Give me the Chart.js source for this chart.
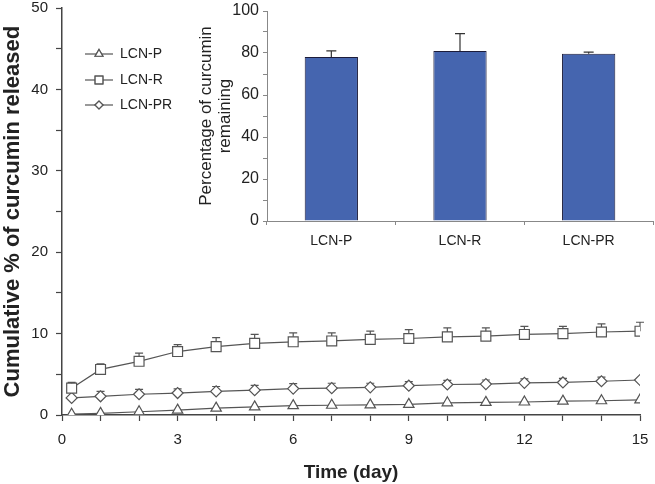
<!DOCTYPE html>
<html>
<head>
<meta charset="utf-8">
<script src="https://cdn.jsdelivr.net/npm/chart.js@4"></script>
<style>
  body { margin: 0; background: #fff; }
  #wrap { position: relative; width: 655px; height: 484px; }
  #main { position: absolute; left: 0; top: 0; }
  #inset { position: absolute; left: 195px; top: 0; }
</style>
</head>
<body>
<div id="wrap">
  <canvas id="main" width="655" height="484"></canvas>
  <canvas id="inset" width="460" height="250"></canvas>
</div>
<script>
// release data (day, cumulative %)
const days = [0.25, 1, 2, 3, 4, 5, 6, 7, 8, 9, 10, 11, 12, 13, 14, 15]
const lcnP = [0.1, 0.2, 0.4, 0.6, 0.85, 1.0, 1.15, 1.2, 1.25, 1.3, 1.5, 1.55, 1.6, 1.7, 1.75, 1.85]
const lcnR = [3.3, 5.6, 6.6, 7.8, 8.4, 8.8, 9.0, 9.1, 9.3, 9.4, 9.6, 9.7, 9.9, 10.0, 10.2, 10.3]
const lcnPR = [2.1, 2.3, 2.55, 2.7, 2.9, 3.05, 3.25, 3.3, 3.4, 3.6, 3.75, 3.8, 3.95, 4.0, 4.15, 4.3]
const errR = [0.7, 0.7, 1.0, 0.85, 1.1, 1.1, 1.1, 1.0, 1.0, 1.1, 1.1, 1.0, 1.0, 0.9, 1.0, 1.1]
const errPR = [0, 0.6, 0.6, 0.5, 0.6, 0.6, 0.6, 0.6, 0.5, 0.5, 0.5, 0.5, 0.5, 0.5, 0.5, 0]

// inset data
const groups = ['LCN-P', 'LCN-R', 'LCN-PR']
const remaining = [78.1, 81.0, 79.6]
const remainingErr = [2.9, 8.2, 0.8]

const FONT = "'Liberation Sans', Arial, sans-serif"
Chart.defaults.font.family = FONT
Chart.defaults.color = '#222'

const lineGrey = '#555'

// upward error bars with a cap
const errorBars = {
  id: 'errorBars',
  beforeDatasetsDraw(chart, args, opts) {
    const c = chart.ctx
    const yScale = chart.scales.y
    chart.data.datasets.forEach((ds, i) => {
      if (!ds.errors) return
      const meta = chart.getDatasetMeta(i)
      c.save()
      c.strokeStyle = opts.color || lineGrey
      c.lineWidth = 1.2
      meta.data.forEach((el, j) => {
        const e = ds.errors[j]
        if (!e) return
        const raw = ds.data[j]
        const v = typeof raw === 'object' ? raw.y : raw
        const x = el.x
        const y0 = yScale.getPixelForValue(v)
        const y1 = yScale.getPixelForValue(v + e)
        c.beginPath()
        c.moveTo(x, y0)
        c.lineTo(x, y1)
        c.moveTo(x - opts.cap, y1)
        c.lineTo(x + opts.cap, y1)
        c.stroke()
      })
      c.restore()
    })
  }
}

// legend drawn as line + marker + text, like the original
const lineLegend = {
  id: 'lineLegend',
  afterDraw(chart) {
    const c = chart.ctx
    const rows = [54, 80, 105]
    c.save()
    chart.data.datasets.forEach((ds, i) => {
      const y = rows[i]
      c.strokeStyle = lineGrey
      c.lineWidth = 1.2
      c.beginPath()
      c.moveTo(85, y)
      c.lineTo(113, y)
      c.stroke()
      c.fillStyle = '#fff'
      Chart.helpers.drawPoint(c, {pointStyle: ds.pointStyle, radius: ds.pointRadius - 1.5, borderWidth: 1}, 99, y)
      c.fill()
      c.stroke()
      c.fillStyle = '#222'
      c.font = '14px ' + FONT
      c.textBaseline = 'middle'
      c.fillText(ds.label, 120, y)
    })
    c.restore()
  }
}

// fixed box sizes, no extra label overhang padding
function fixX(h) {
  return s => { s.height = h; s.paddingLeft = 0; s.paddingRight = 0 }
}
function fixY(w) {
  return s => { s.width = w; s.paddingTop = 0; s.paddingBottom = 0 }
}

function series(label, data, style, radius, errors) {
  return {
    label: label,
    data: days.map((d, i) => ({x: d, y: data[i]})),
    errors: errors,
    borderColor: lineGrey,
    borderWidth: 1.2,
    pointStyle: style,
    pointRadius: radius,
    pointBackgroundColor: '#fff',
    pointBorderColor: lineGrey,
    pointBorderWidth: 1.2,
    tension: 0
  }
}

new Chart(document.getElementById('main'), {
  type: 'line',
  data: {
    datasets: [
      series('LCN-P', lcnP, 'triangle', 6, null),
      series('LCN-R', lcnR, 'rect', 7, errR),
      series('LCN-PR', lcnPR, 'rectRot', 5.5, errPR)
    ]
  },
  options: {
    responsive: false,
    animation: false,
    layout: {padding: {top: 5, right: 15, left: 0, bottom: 0}},
    plugins: {
      legend: {display: false},
      tooltip: {enabled: false},
      errorBars: {cap: 4}
    },
    scales: {
      x: {
        type: 'linear', min: 0, max: 15,
        ticks: {stepSize: 1, autoSkip: false, maxRotation: 0, padding: 10, font: {size: 15},
          callback: v => (v % 3 === 0 ? v : '')},
        grid: {drawOnChartArea: false, tickLength: 6, tickColor: '#444', tickWidth: 1.2},
        border: {color: '#444', width: 1.5},
        title: {display: true, text: 'Time (day)', font: {size: 19, weight: 'bold'}, padding: 0},
        afterFit: fixX(69)
      },
      y: {
        min: 0, max: 50,
        ticks: {stepSize: 5, autoSkip: false, padding: 8, font: {size: 15},
          callback: v => (v % 10 === 0 ? v : '')},
        grid: {drawOnChartArea: false, tickLength: 6, tickColor: '#444', tickWidth: 1.2},
        border: {color: '#444', width: 1.5},
        title: {display: true, text: 'Cumulative % of curcumin released', font: {size: 22, weight: 'bold'}, padding: 0},
        afterFit: fixY(62)
      }
    }
  },
  plugins: [errorBars, lineLegend]
})

new Chart(document.getElementById('inset'), {
  type: 'bar',
  data: {
    labels: groups,
    datasets: [{
      data: remaining,
      errors: remainingErr,
      backgroundColor: '#4565AF',
      borderColor: '#1c1c3a',
      borderWidth: 1,
      categoryPercentage: 1,
      barPercentage: 0.414
    }]
  },
  options: {
    responsive: false,
    animation: false,
    layout: {padding: {top: 11, right: 2, left: 0, bottom: 0}},
    plugins: {
      legend: {display: false},
      tooltip: {enabled: false},
      errorBars: {cap: 5, color: '#333'}
    },
    scales: {
      x: {
        ticks: {padding: 8, font: {size: 14}},
        grid: {drawOnChartArea: false, tickLength: 4, tickColor: '#888', offset: true},
        border: {color: '#888', width: 1},
        afterFit: fixX(29)
      },
      y: {
        min: 0, max: 100,
        ticks: {stepSize: 10, autoSkip: false, padding: 4, font: {size: 16},
          callback: v => (v % 20 === 0 ? v : '')},
        grid: {drawOnChartArea: false, tickLength: 4, tickColor: '#888'},
        border: {color: '#888', width: 1},
        title: {display: true, text: ['Percentage of curcumin', 'remaining'], font: {size: 17, lineHeight: 1.1}, padding: {top: 2, bottom: 0}},
        afterFit: fixY(72)
      }
    }
  },
  plugins: [errorBars]
})
</script>
</body>
</html>
